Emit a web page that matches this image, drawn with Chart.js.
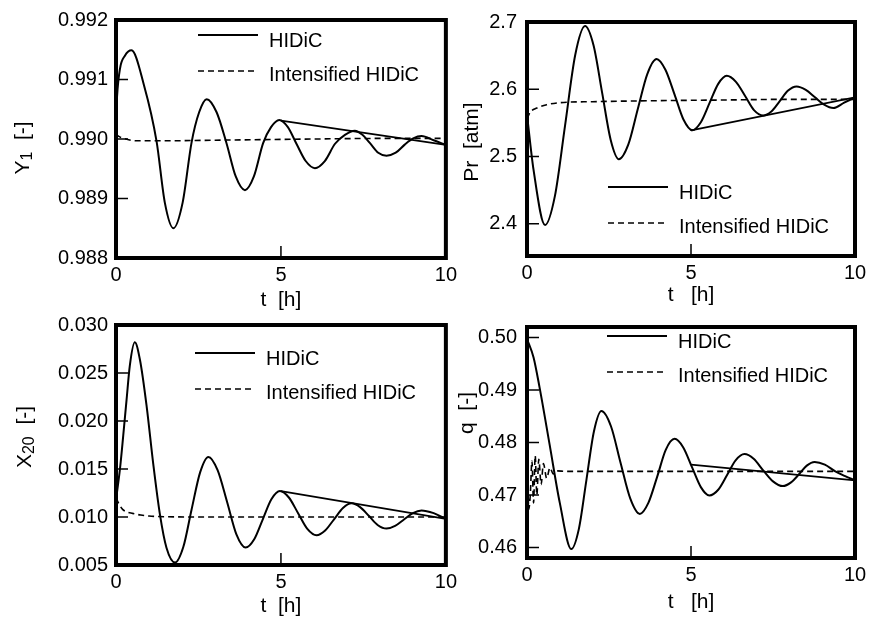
<!DOCTYPE html>
<html>
<head>
<meta charset="utf-8">
<script src="https://cdn.jsdelivr.net/npm/chart.js@4.4.1/dist/chart.umd.min.js"></script>
<style>
  body { margin: 0; background: #fff; }
  #wrap { position: relative; width: 873px; height: 619px; overflow: hidden; }
  canvas { position: absolute; }
</style>
</head>
<body>
<div id="wrap">
  <canvas id="c1" width="462" height="318" style="left:0;top:0"></canvas>
  <canvas id="c2" width="433" height="318" style="left:440px;top:0"></canvas>
  <canvas id="c3" width="462" height="314" style="left:0;top:305px"></canvas>
  <canvas id="c4" width="433" height="314" style="left:440px;top:305px"></canvas>
</div>
<script>
// series names
const seriesNames = ["HIDiC", "Intensified HIDiC"];
const tTicks = [0, 5, 10];

// Y1
const tY1 = [0, 0.03, 0.12, 0.27, 0.47, 0.85, 1.23, 1.48, 1.74, 2.02, 2.29, 2.52, 2.75, 3.05, 3.35, 3.63, 3.91, 4.18, 4.46, 4.7, 4.95, 5.21, 5.47, 5.75, 6.03, 6.33, 6.64, 6.94, 7.24, 7.47, 7.7, 7.95, 8.2, 8.48, 8.76, 9.01, 9.26, 9.63, 10];
const hidicY1 = [0.9903, 0.9907, 0.99118, 0.9914, 0.99149, 0.9909, 0.98996, 0.98893, 0.98850, 0.98893, 0.98994, 0.99045, 0.99067, 0.99045, 0.98993, 0.98937, 0.98914, 0.98937, 0.98993, 0.99020, 0.99032, 0.99020, 0.98992, 0.98963, 0.98951, 0.98963, 0.98992, 0.99007, 0.99014, 0.99007, 0.98993, 0.98977, 0.98972, 0.98977, 0.98991, 0.99001, 0.99005, 0.98998, 0.98990];
const tY1Int = [0, 0.1, 0.3, 0.6, 1.5, 3, 4.5, 6, 8, 10];
const intY1 = [0.99008, 0.99004, 0.99000, 0.98997, 0.98997, 0.98998, 0.98999, 0.99000, 0.99001, 0.99001];
const trendY1T = [5, 10];
const trendY1 = [0.99031, 0.98990];
const ticksY1 = [0.988, 0.989, 0.990, 0.991, 0.992];

// Pr
const tPr = [0, 0.2, 0.55, 0.85, 1.16, 1.47, 1.77, 2.03, 2.29, 2.55, 2.80, 3.09, 3.38, 3.67, 3.95, 4.22, 4.5, 4.77, 5.04, 5.3, 5.57, 5.83, 6.09, 6.37, 6.65, 6.92, 7.2, 7.45, 7.7, 7.96, 8.22, 8.5, 8.78, 9.06, 9.34, 9.67, 10];
const hidicPr = [2.562, 2.48, 2.398, 2.441, 2.546, 2.651, 2.694, 2.665, 2.595, 2.525, 2.496, 2.518, 2.571, 2.623, 2.645, 2.629, 2.592, 2.555, 2.539, 2.551, 2.580, 2.608, 2.620, 2.611, 2.590, 2.569, 2.561, 2.567, 2.582, 2.598, 2.604, 2.599, 2.588, 2.577, 2.572, 2.580, 2.588];
const tPrInt = [0, 0.1, 0.3, 0.6, 1, 2, 4, 6, 8, 10];
const intPr = [2.556, 2.566, 2.572, 2.577, 2.580, 2.5815, 2.583, 2.584, 2.585, 2.585];
const trendPrT = [5, 10];
const trendPr = [2.539, 2.588];
const ticksPr = [2.4, 2.5, 2.6, 2.7];

// X20
const tX20 = [0, 0.12, 0.22, 0.32, 0.42, 0.57, 0.73, 0.93, 1.13, 1.33, 1.53, 1.79, 2.04, 2.29, 2.55, 2.80, 3.08, 3.37, 3.65, 3.93, 4.19, 4.45, 4.71, 4.97, 5.24, 5.52, 5.8, 6.08, 6.34, 6.61, 6.88, 7.14, 7.4, 7.67, 7.93, 8.2, 8.46, 8.73, 9.0, 9.26, 9.63, 10];
const hidicX20 = [0.0118, 0.0150, 0.0185, 0.0222, 0.0258, 0.0282, 0.0263, 0.0215, 0.0155, 0.0103, 0.0068, 0.00526, 0.00687, 0.01076, 0.01465, 0.01626, 0.01488, 0.01154, 0.00820, 0.00682, 0.00768, 0.00976, 0.01184, 0.0127, 0.01203, 0.0104, 0.00877, 0.0081, 0.00859, 0.00976, 0.01093, 0.01142, 0.01103, 0.0101, 0.00917, 0.00879, 0.00907, 0.00974, 0.01041, 0.01069, 0.0104, 0.0098];
const tX20Int = [0, 0.1, 0.2, 0.35, 0.5, 0.75, 1.0, 1.5, 3, 6, 10];
const intX20 = [0.0120, 0.0113, 0.0108, 0.0105, 0.01038, 0.0102, 0.0101, 0.01003, 0.0100, 0.0100, 0.0100];
const trendX20T = [5, 10];
const trendX20 = [0.0127, 0.0098];
const ticksX20 = [0.005, 0.010, 0.015, 0.020, 0.025, 0.030];

// q
const tQ = [0, 0.2, 0.38, 0.69, 1.0, 1.35, 1.58, 1.81, 2.04, 2.27, 2.56, 2.85, 3.15, 3.44, 3.7, 3.97, 4.23, 4.5, 4.76, 5.03, 5.3, 5.56, 5.83, 6.1, 6.36, 6.63, 6.91, 7.2, 7.5, 7.8, 8.05, 8.3, 8.53, 8.77, 9.08, 9.4, 9.7, 10];
const hidicQ = [0.4997, 0.4962, 0.4906, 0.4796, 0.4685, 0.4597, 0.4635, 0.4728, 0.4821, 0.4860, 0.4831, 0.4762, 0.4693, 0.4664, 0.4685, 0.4735, 0.4786, 0.4807, 0.4791, 0.4753, 0.4715, 0.4699, 0.4710, 0.4738, 0.4766, 0.4778, 0.4769, 0.4747, 0.4726, 0.4717, 0.4724, 0.4740, 0.4756, 0.4763, 0.4758, 0.4745, 0.4736, 0.4728];
const tQInt = [0, 0.05, 0.1, 0.15, 0.2, 0.25, 0.3, 0.36, 0.43, 0.5, 0.6, 0.7, 0.8, 0.9, 1.2, 3, 6, 10];
const intQ = [0.4998, 0.4672, 0.4700, 0.4765, 0.4685, 0.4775, 0.4700, 0.4768, 0.4720, 0.4760, 0.4732, 0.4752, 0.4740, 0.4746, 0.4745, 0.4745, 0.4745, 0.4745];
const trendQT = [5, 10];
const trendQ = [0.4758, 0.4728];
const ticksQ = [0.46, 0.47, 0.48, 0.49, 0.50];

const FONT = '"Liberation Sans", Arial, sans-serif';
Chart.defaults.font.family = FONT;
Chart.defaults.color = '#000';

const toPoints = (xs, ys) => xs.map((x, i) => ({ x: x, y: ys[i] }));

const drawYTitle = (ctx, o) => {
    ctx.save();
    ctx.translate(o.x, o.y);
    ctx.rotate(-Math.PI / 2);
    ctx.fillStyle = '#000';
    ctx.textBaseline = 'middle';
    ctx.textAlign = 'left';
    const big = '21px ' + FONT;
    const small = '16px ' + FONT;
    ctx.font = big;
    const w1 = ctx.measureText(o.main).width;
    const w3 = ctx.measureText(o.rest).width;
    ctx.font = small;
    const w2 = o.sub ? ctx.measureText(o.sub).width : 0;
    let x = -(w1 + w2 + w3) / 2;
    ctx.font = big;
    ctx.fillText(o.main, x, 0);
    x += w1;
    if (o.sub) {
        ctx.font = small;
        ctx.fillText(o.sub, x, 5);
        x += w2;
    }
    ctx.font = big;
    ctx.fillText(o.rest, x, 0);
    ctx.restore();
}

const drawLegend = (ctx, chart, o) => {
    ctx.save();
    ctx.strokeStyle = '#000';
    ctx.lineWidth = 2;
    ctx.beginPath();
    ctx.moveTo(o.x, o.y);
    ctx.lineTo(o.x + 60, o.y);
    ctx.stroke();
    ctx.setLineDash([6, 4]);
    ctx.lineWidth = 1.6;
    ctx.beginPath();
    ctx.moveTo(o.x, o.y + 36);
    ctx.lineTo(o.x + 60, o.y + 36);
    ctx.stroke();
    ctx.setLineDash([]);
    ctx.fillStyle = '#000';
    ctx.font = '20px ' + FONT;
    ctx.textBaseline = 'middle';
    ctx.textAlign = 'left';
    ctx.fillText(chart.data.datasets[0].label, o.x + 71, o.y + 6);
    ctx.fillText(chart.data.datasets[1].label, o.x + 71, o.y + 40);
    ctx.restore();
}

// frame, inward ticks, legend and y title
const framePlugin = {
    id: 'frame',
    afterDatasetsDraw(chart, args, opts) {
        const { ctx, chartArea: a, scales: { x, y } } = chart;
        ctx.save();
        ctx.strokeStyle = '#000';
        ctx.lineWidth = 1.5;
        ctx.beginPath();
        y.ticks.forEach(t => {
            const py = y.getPixelForValue(t.value);
            ctx.moveTo(a.left, py);
            ctx.lineTo(a.left + 12, py);
        });
        x.ticks.forEach(t => {
            const px = x.getPixelForValue(t.value);
            ctx.moveTo(px, a.bottom);
            ctx.lineTo(px, a.bottom - 12);
        });
        ctx.stroke();
        ctx.lineWidth = 4;
        ctx.strokeRect(a.left, a.top, a.right - a.left, a.bottom - a.top);
        ctx.restore();
        drawLegend(ctx, chart, opts.legend);
        drawYTitle(ctx, opts.yTitle);
    }
};

const panels = [
    { id: 'c1', t: tY1, hidic: hidicY1, tInt: tY1Int, int: intY1, trendT: trendY1T, trend: trendY1,
      yMin: 0.988, yMax: 0.992, yTicks: ticksY1, dec: 3, xTitle: 't  [h]',
      yTitle: { main: 'Y', sub: '1', rest: '  [-]', x: 23, y: 148 },
      legend: { x: 198, y: 35 }, pad: { top: 17, right: 16, bottom: 0, left: 0 }, yw: 116, xh: 60, xtPad: 5, ytPad: 8 },
    { id: 'c2', t: tPr, hidic: hidicPr, tInt: tPrInt, int: intPr, trendT: trendPrT, trend: trendPr,
      yMin: 2.352, yMax: 2.7, yTicks: ticksPr, dec: 1, xTitle: 't   [h]',
      yTitle: { main: 'Pr', sub: '', rest: '  [atm]', x: 32, y: 142 },
      legend: { x: 168, y: 187 }, pad: { top: 17, right: 18, bottom: 0, left: 0 }, yw: 87, xh: 62, xtPad: 10, ytPad: 10 },
    { id: 'c3', t: tX20, hidic: hidicX20, tInt: tX20Int, int: intX20, trendT: trendX20T, trend: trendX20,
      yMin: 0.005, yMax: 0.030, yTicks: ticksX20, dec: 3, xTitle: 't  [h]',
      yTitle: { main: 'X', sub: '20', rest: '  [-]', x: 25, y: 132 },
      legend: { x: 195, y: 48 }, pad: { top: 20, right: 16, bottom: 0, left: 0 }, yw: 116, xh: 54, xtPad: 0, ytPad: 8 },
    { id: 'c4', t: tQ, hidic: hidicQ, tInt: tQInt, int: intQ, trendT: trendQT, trend: trendQ,
      yMin: 0.458, yMax: 0.502, yTicks: ticksQ, dec: 2, xTitle: 't   [h]',
      yTitle: { main: 'q', sub: '', rest: '  [-]', x: 27, y: 108 },
      legend: { x: 167, y: 31 }, pad: { top: 12, right: 18, bottom: 0, left: 0 }, yw: 87, xh: 61, xtPad: 4, ytPad: 10 }
];

panels.forEach(p => {
    const config = {
        type: 'line',
        data: {
            datasets: [
                {
                    label: seriesNames[0],
                    data: toPoints(p.t, p.hidic),
                    borderColor: '#000',
                    borderWidth: 2,
                    pointRadius: 0,
                    cubicInterpolationMode: 'monotone'
                },
                {
                    label: seriesNames[1],
                    data: toPoints(p.tInt, p.int),
                    borderColor: '#000',
                    borderWidth: 1.6,
                    borderDash: [6, 4],
                    pointRadius: 0,
                    cubicInterpolationMode: 'monotone'
                },
                {
                    label: seriesNames[0] + ' (t = 5 - 10)',
                    data: toPoints(p.trendT, p.trend),
                    borderColor: '#000',
                    borderWidth: 1.8,
                    pointRadius: 0,
                    tension: 0
                }
            ]
        },
        options: {
            responsive: false,
            animation: false,
            layout: { padding: p.pad },
            plugins: {
                legend: { display: false },
                tooltip: { enabled: false },
                frame: { legend: p.legend, yTitle: p.yTitle }
            },
            scales: {
                x: {
                    type: 'linear',
                    min: 0,
                    max: 10,
                    afterBuildTicks: s => { s.ticks = tTicks.map(v => ({ value: v })); },
                    afterFit: s => { s.height = p.xh; },
                    grid: { display: false, drawTicks: false },
                    border: { display: false },
                    ticks: { padding: 5, font: { size: 20 }, color: '#000', maxRotation: 0, autoSkip: false, callback: v => String(v) },
                    title: { display: true, text: p.xTitle, font: { size: 21 }, color: '#000', padding: { top: 0, bottom: p.xtPad } }
                },
                y: {
                    type: 'linear',
                    min: p.yMin,
                    max: p.yMax,
                    afterBuildTicks: s => { s.ticks = p.yTicks.map(v => ({ value: v })); },
                    afterFit: s => { s.width = p.yw; },
                    grid: { display: false, drawTicks: false },
                    border: { display: false },
                    ticks: { padding: p.ytPad, font: { size: 20 }, color: '#000', autoSkip: false, callback: v => v.toFixed(p.dec) }
                }
            }
        },
        plugins: [framePlugin]
    };
    new Chart(document.getElementById(p.id), config);
});
</script>
</body>
</html>
